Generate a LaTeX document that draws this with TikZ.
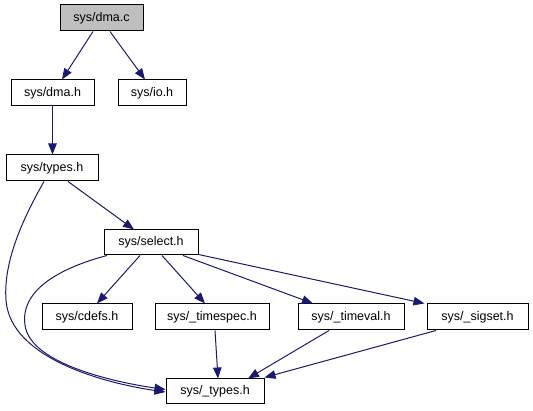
\documentclass[tikz,border=0pt]{standalone}
\usepackage{fontspec}
\setmainfont{Liberation Sans}
\usetikzlibrary{arrows.meta}
\definecolor{edgeblue}{HTML}{191970}
\definecolor{rootgray}{HTML}{BFBFBF}
\tikzset{
  filebox/.style={draw=black, line width=1pt, fill=white, inner sep=0pt, minimum height=26pt,
    font=\fontsize{12.5}{14}\selectfont, anchor=center},
  rootbox/.style={filebox, fill=rootgray},
  dep/.style={draw=edgeblue, line width=1pt, -{Triangle[length=11pt,width=8.5pt]}},
}
\begin{document}
\begin{tikzpicture}[x=1pt,y=-1pt]
\useasboundingbox (0,0) rectangle (533,411);
\node[rootbox, minimum width=83pt] (dmac) at (101.5,18) {sys/dma.c};
\node[filebox, minimum width=83pt] (dmah) at (52.5,93) {sys/dma.h};
\node[filebox, minimum width=68pt] (ioh) at (152,93) {sys/io.h};
\node[filebox, minimum width=92pt] (typesh) at (52,168) {sys/types.h};
\node[filebox, minimum width=94pt, minimum height=25pt] (selecth) at (151,242.5) {sys/select.h};
\node[filebox, minimum width=90pt] (cdefs) at (87,317) {sys/cdefs.h};
\node[filebox, minimum width=114pt] (timespec) at (212,317) {sys/\_timespec.h};
\node[filebox, minimum width=106pt] (timeval) at (351,317) {sys/\_timeval.h};
\node[filebox, minimum width=101pt] (sigset) at (477.5,317) {sys/\_sigset.h};
\node[filebox, minimum width=98pt, minimum height=25pt] (utypes) at (215,391.5) {sys/\_types.h};

\draw[dep] ([xshift=-8.5pt]dmac.south) -- ([xshift=9.5pt]dmah.north);
\draw[dep] ([xshift=8.5pt]dmac.south) -- ([xshift=-7pt]ioh.north);
\draw[dep] (dmah.south) -- (dmah.south |- typesh.north);
\draw[dep] ([xshift=16pt]typesh.south) -- ([xshift=-17pt]selecth.north);
\draw[dep] ([xshift=-8pt]typesh.south) .. controls (25,215) and (3,260) .. (6,300)
  .. controls (10,360) and (110,384) .. ([yshift=-0.5pt]utypes.west);
\draw[dep] ([xshift=-44pt]selecth.south) .. controls (60,268) and (20,290) .. (25,325)
  .. controls (30,365) and (120,383) .. ([yshift=2pt]utypes.west);
\draw[dep] ([xshift=-11pt]selecth.south) -- ([xshift=10pt]cdefs.north);
\draw[dep] ([xshift=11pt]selecth.south) -- ([xshift=-7pt]timespec.north);
\draw[dep] ([xshift=32pt]selecth.south) -- ([xshift=-38pt]timeval.north);
\draw[dep] ([yshift=1pt]selecth.south east) -- ([xshift=-2pt]sigset.north west);
\draw[dep] ([xshift=3pt]timespec.south) -- ([xshift=3pt]utypes.north);
\draw[dep] ([xshift=-22pt]timeval.south) -- ([xshift=33pt]utypes.north);
\draw[dep] ([xshift=-41.5pt]sigset.south) -- ([yshift=14pt]utypes.east);
\end{tikzpicture}
\end{document}
